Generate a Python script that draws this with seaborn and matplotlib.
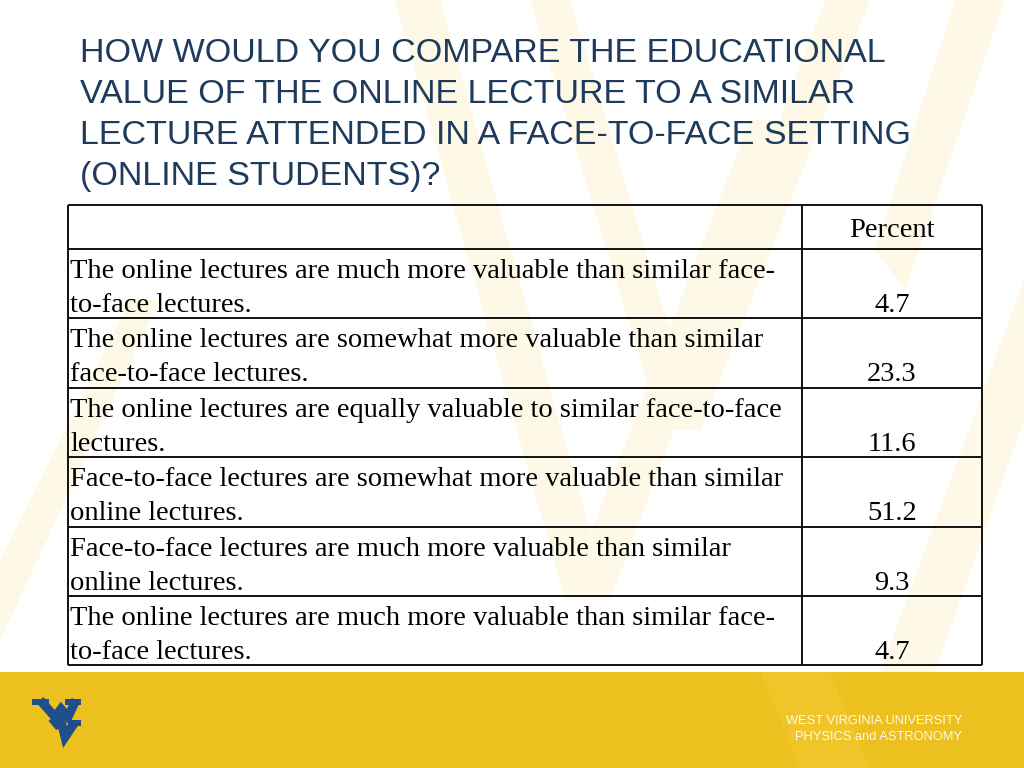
import seaborn as sns
import matplotlib.pyplot as plt
from matplotlib.patches import Polygon, Rectangle
import pandas as pd

# Survey answers and the percentages from the slide
title_lines = [
    "HOW WOULD YOU COMPARE THE EDUCATIONAL",
    "VALUE OF THE ONLINE LECTURE TO A SIMILAR",
    "LECTURE ATTENDED IN A FACE-TO-FACE SETTING",
    "(ONLINE STUDENTS)?",
]
header = "Percent"
answers = [
    ["The online lectures are much more valuable than similar face-", "to-face lectures."],
    ["The online lectures are somewhat more valuable than similar", "face-to-face lectures."],
    ["The online lectures are equally valuable to similar face-to-face", "lectures."],
    ["Face-to-face lectures are somewhat more valuable than similar", "online lectures."],
    ["Face-to-face lectures are much more valuable than similar", "online lectures."],
    ["The online lectures are much more valuable than similar face-", "to-face lectures."],
]
percents = [4.7, 23.3, 11.6, 51.2, 9.3, 4.7]
footer_lines = ["WEST VIRGINIA UNIVERSITY", "PHYSICS and ASTRONOMY"]

df = pd.DataFrame({"line1": [a[0] for a in answers],
                   "line2": [a[1] for a in answers],
                   "percent": percents})

sns.set_theme(style="white")
plt.rcParams['font.family'] = ['Liberation Sans', 'DejaVu Sans']

fig = plt.figure(figsize=(10.24, 7.68), dpi=100)
ax = fig.add_axes([0, 0, 1, 1])
ax.set_xlim(0, 1024)
ax.set_ylim(768, 0)
ax.axis('off')

# faint W watermark in the background
band = '#fef9e6'
for pts in [
    [(395, 0), (440, 0), (610, 600), (565, 600)],
    [(530, 0), (570, 0), (700, 430), (662, 430)],
    [(662, 430), (700, 430), (870, 0), (825, 0)],
    [(565, 600), (610, 600), (790, 120), (750, 120)],
    [(880, 672), (935, 672), (1024, 420), (1024, 280)],
    [(955, 0), (1005, 0), (905, 290), (875, 250)],
    [(0, 560), (0, 640), (160, 300), (130, 300)],
]:
    ax.add_patch(Polygon(pts, closed=True, color=band, zorder=0, lw=0))

# yellow footer band
ax.add_patch(Rectangle((0, 672), 1024, 96, color='#ecc01e', zorder=1, lw=0))
ax.add_patch(Polygon([(760, 672), (830, 672), (870, 768), (800, 768)],
                     color='#efc52a', zorder=1, lw=0))

# WVU flying WV logo
logo = '#1f4e8c'
kw = dict(color=logo, solid_joinstyle='miter', solid_capstyle='butt', zorder=2)
ax.plot([40, 55, 61, 68, 76], [700, 717, 709, 717, 700], lw=6.5, **kw)
ax.add_patch(Rectangle((32, 699), 17, 6, color=logo, lw=0, zorder=2))
ax.add_patch(Rectangle((65, 699), 16, 6, color=logo, lw=0, zorder=2))
ax.plot([52, 57, 61, 65, 75], [718, 724, 721, 737, 722], lw=6.5, **kw)
ax.add_patch(Rectangle((68, 720), 13, 6, color=logo, lw=0, zorder=2))

for i, line in enumerate(footer_lines):
    ax.text(962, 721 + i * 16, line, ha='right', va='center', fontsize=9.3,
            color='white', alpha=0.9, zorder=3)

# title
for i, line in enumerate(title_lines):
    ax.text(80, 62 + i * 41, line, ha='left', va='baseline', fontsize=24.5,
            color='#1f3b5c', zorder=3)

# table geometry
left, split, right = 68, 802, 982
top, head_h, row_h = 205, 44, 69.4
n = len(df)
bottom = top + head_h + n * row_h
row_tops = [top + head_h + i * row_h for i in range(n)]

ax.hlines([top, top + head_h] + row_tops[1:] + [bottom], left, right,
          color='#111111', lw=1.4, zorder=3)
ax.vlines([left, split, right], top, bottom, color='#111111', lw=1.4, zorder=3)

serif = ['Liberation Serif', 'DejaVu Serif']
fs = 20.5
ax.text((split + right) / 2, top + 32, header, ha='center', va='baseline',
        fontsize=fs, family=serif, color='black', zorder=4)
for y0, (_, r) in zip(row_tops, df.iterrows()):
    ax.text(70, y0 + 29, r['line1'], ha='left', va='baseline', fontsize=fs,
            family=serif, color='black', zorder=4)
    ax.text(70, y0 + 63, r['line2'], ha='left', va='baseline', fontsize=fs,
            family=serif, color='black', zorder=4)
    ax.text((split + right) / 2, y0 + 63, f"{r['percent']:.1f}",
            ha='center', va='baseline', fontsize=fs, family=serif,
            color='black', zorder=4)

fig.savefig('out.png', dpi=100)
